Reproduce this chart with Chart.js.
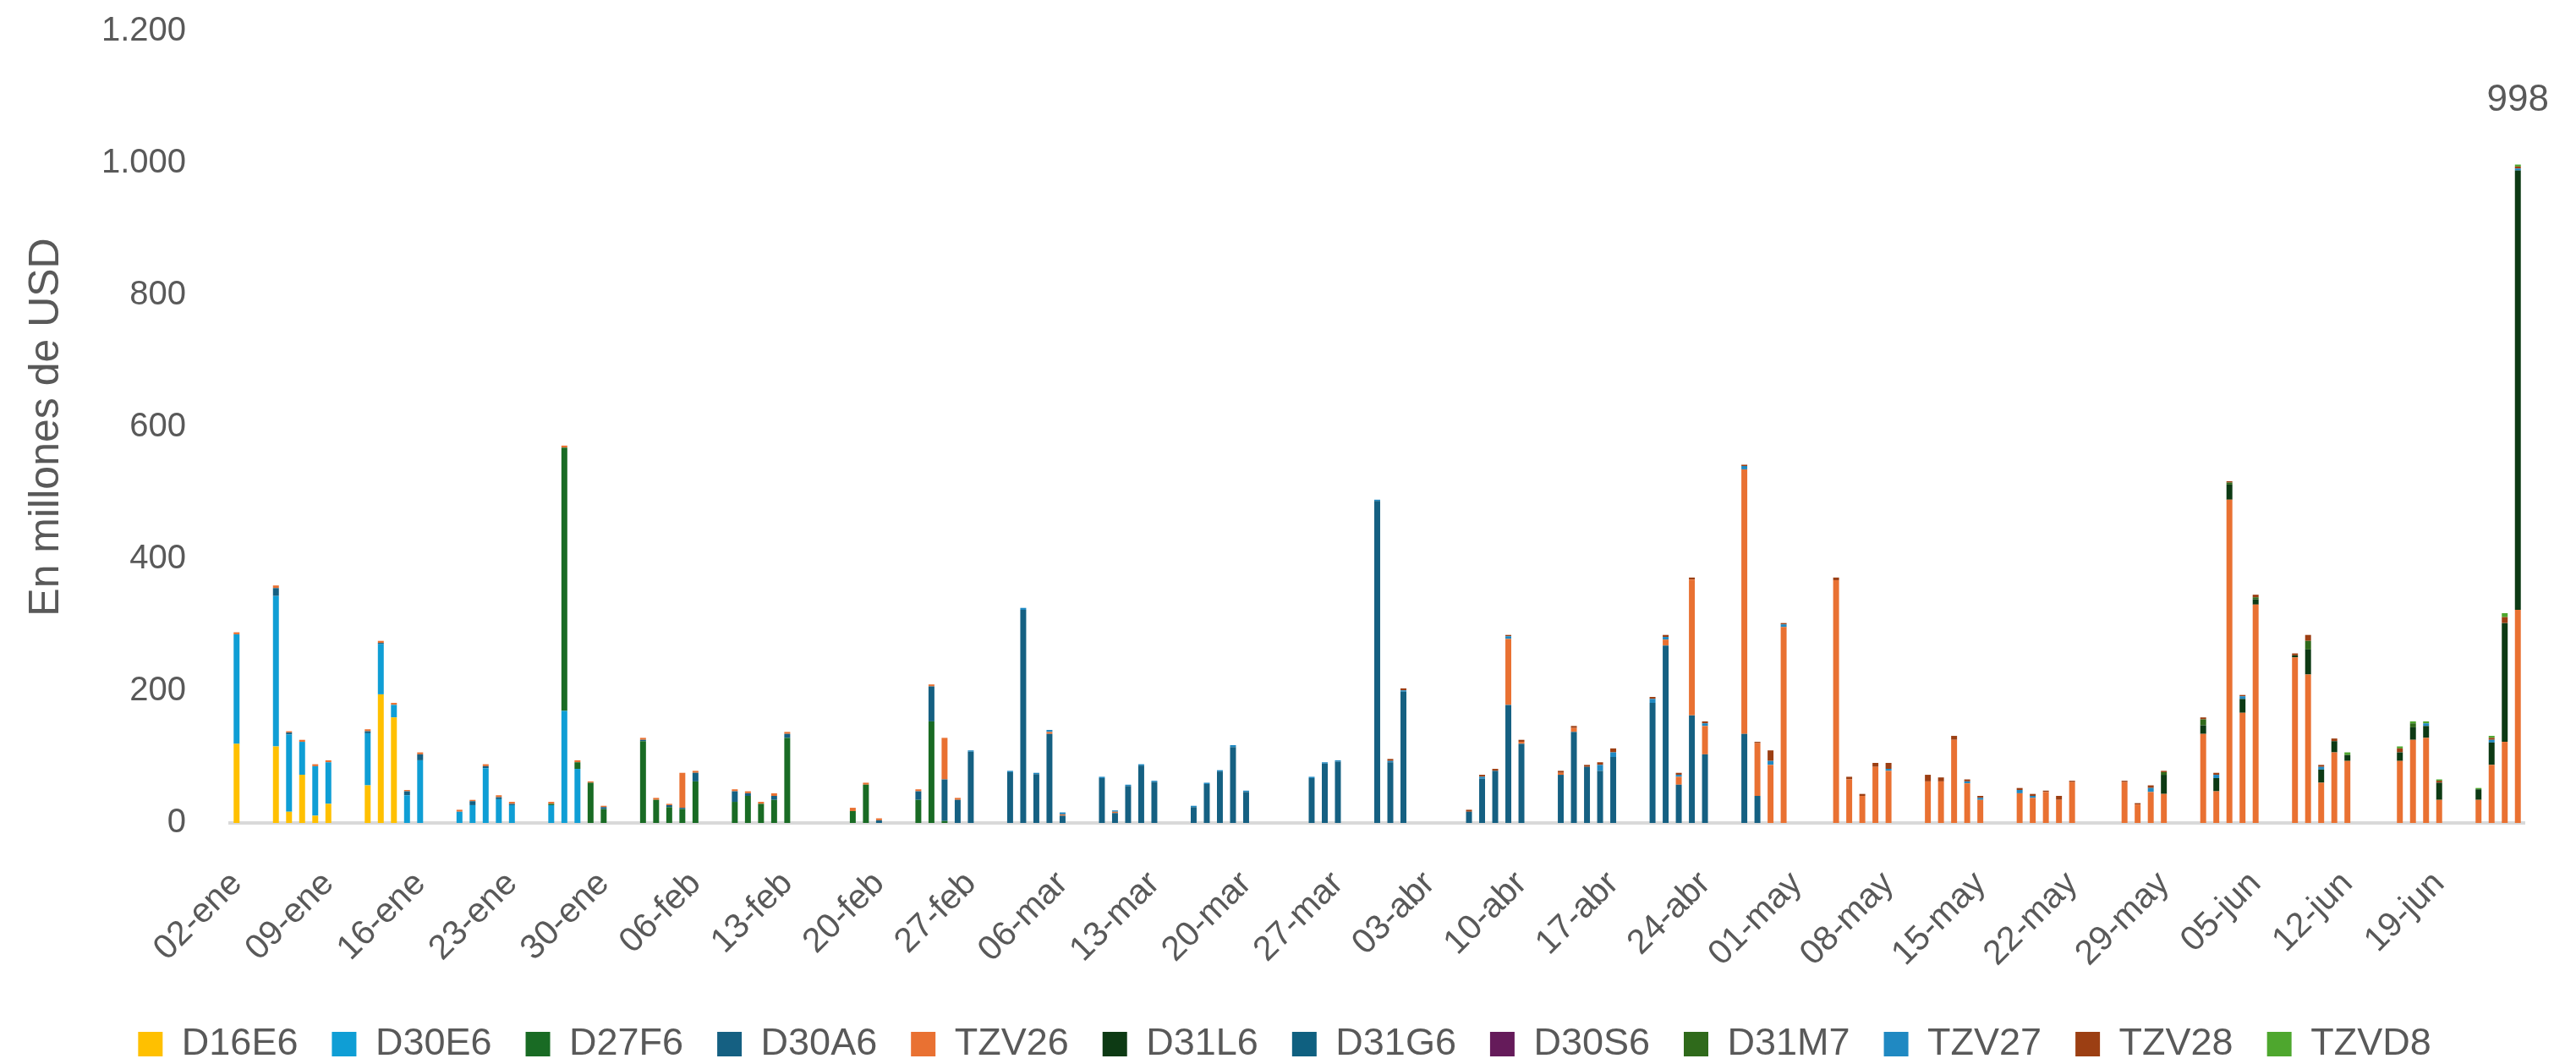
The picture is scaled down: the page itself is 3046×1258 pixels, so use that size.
<!DOCTYPE html>
<html lang="es">
<head>
<meta charset="utf-8">
<title>Negociación diaria por especie</title>
<script src="https://cdn.jsdelivr.net/npm/chart.js@4.4.1/dist/chart.umd.min.js"></script>
<style>
  html, body { margin: 0; padding: 0; background: #fff; }
  #chart { display: block; }
</style>
</head>
<body>
<canvas id="chart" width="3046" height="1258"></canvas>
<script>
const months = ["ene", "feb", "mar", "abr", "may", "jun"];

// días con operaciones (ene 21, feb 18, mar 20, abr 20, may 19, jun 18)
const tradeDays = [
  "02-ene","05-ene","06-ene","07-ene","08-ene","09-ene","12-ene","13-ene","14-ene","15-ene","16-ene",
  "19-ene","20-ene","21-ene","22-ene","23-ene","26-ene","27-ene","28-ene","29-ene","30-ene",
  "02-feb","03-feb","04-feb","05-feb","06-feb","09-feb","10-feb","11-feb","12-feb","13-feb",
  "18-feb","19-feb","20-feb","23-feb","24-feb","25-feb","26-feb","27-feb",
  "02-mar","03-mar","04-mar","05-mar","06-mar","09-mar","10-mar","11-mar","12-mar","13-mar",
  "16-mar","17-mar","18-mar","19-mar","20-mar","25-mar","26-mar","27-mar","30-mar","31-mar",
  "01-abr","06-abr","07-abr","08-abr","09-abr","10-abr","13-abr","14-abr","15-abr","16-abr",
  "17-abr","20-abr","21-abr","22-abr","23-abr","24-abr","27-abr","28-abr","29-abr","30-abr",
  "04-may","05-may","06-may","07-may","08-may","11-may","12-may","13-may","14-may","15-may",
  "18-may","19-may","20-may","21-may","22-may","26-may","27-may","28-may","29-may",
  "01-jun","02-jun","03-jun","04-jun","05-jun","08-jun","09-jun","10-jun","11-jun","12-jun",
  "16-jun","17-jun","18-jun","19-jun","22-jun","23-jun","24-jun","25-jun"
];

const seriesNames = ["D16E6","D30E6","D27F6","D30A6","TZV26","D31L6","D31G6","D30S6","D31M7","TZV27","TZV28","TZVD8"];
const seriesColors = ["#FFC000","#0F9ED5","#196B24","#156082","#E97132","#0D3A14","#0F6080","#651B5A","#2F6A1B","#2089C2","#9C3F13","#4EA72E"];

// valores en millones de USD, una línea por mes
const D16E6 = [
  120,116,17,73,11,29,57,195,160,0,0,0,0,0,0,0,0,0,0,0,0,
  0,0,0,0,0,0,0,0,0,0,0,0,0,0,0,0,0,0,
  0,0,0,0,0,0,0,0,0,0,0,0,0,0,0,0,0,0,0,0,
  0,0,0,0,0,0,0,0,0,0,0,0,0,0,0,0,0,0,0,0,
  0,0,0,0,0,0,0,0,0,0,0,0,0,0,0,0,0,0,0,
  0,0,0,0,0,0,0,0,0,0,0,0,0,0,0,0,0,0
];
const D30E6 = [
  166,228,117,50,75,63,79,76,19,42,95,17,27,83,36,27,27,170,82,0,0,
  0,0,0,0,0,0,0,0,0,0,0,0,0,0,0,0,0,0,
  0,0,0,0,0,0,0,0,0,0,0,0,0,0,0,0,0,0,0,0,
  0,0,0,0,0,0,0,0,0,0,0,0,0,0,0,0,0,0,0,0,
  0,0,0,0,0,0,0,0,0,0,0,0,0,0,0,0,0,0,0,
  0,0,0,0,0,0,0,0,0,0,0,0,0,0,0,0,0,0
];
const D27F6 = [
  0,0,0,0,0,0,0,0,0,0,0,0,0,0,0,0,2,399,10,61,21,
  124,35,24,21,63,32,41,29,35,129,18,58,0,35,154,3,0,0,
  0,0,0,0,0,0,0,0,0,0,0,0,0,0,0,0,0,0,0,0,
  0,0,0,0,0,0,0,0,0,0,0,0,0,0,0,0,0,0,0,0,
  0,0,0,0,0,0,0,0,0,0,0,0,0,0,0,0,0,0,0,
  0,0,0,0,0,0,0,0,0,0,0,0,0,0,0,0,0,0
];
const D30A6 = [
  0,12,3,0,0,0,3,2,0,6,9,0,6,3,3,2,0,0,0,0,3,
  2,0,3,2,13,16,4,0,6,6,0,0,4,13,53,63,35,108,
  77,323,74,135,11,68,15,56,87,62,24,59,78,115,47,68,90,93,488,92,
  199,17,67,79,179,120,73,138,85,79,100,182,269,58,163,104,135,41,0,0,
  0,0,0,0,0,0,0,0,0,0,0,0,0,0,0,0,0,0,0,
  0,0,0,0,0,0,0,0,0,0,0,0,0,0,0,0,0,0
];
const TZV26 = [
  3,4,2,3,3,3,3,3,3,2,3,3,2,3,3,3,3,3,3,2,2,
  3,3,2,53,3,3,3,3,4,3,5,3,3,3,3,63,3,0,
  0,0,0,3,2,0,2,0,0,0,0,0,0,0,0,0,0,0,0,0,
  0,0,0,0,100,3,3,6,0,0,0,0,9,12,206,43,401,80,88,297,
  368,66,41,85,79,63,63,126,60,35,45,38,47,35,62,62,28,47,44,
  135,48,490,167,331,251,225,61,107,94,94,126,129,35,35,88,123,323
];
const D31L6 = [
  0,0,0,0,0,0,0,0,0,0,0,0,0,0,0,0,0,0,0,0,0,
  0,0,0,0,0,0,0,0,0,0,0,0,0,0,0,0,0,0,
  0,0,0,0,0,0,0,0,0,0,0,0,0,0,0,0,0,0,0,0,
  0,0,0,0,0,0,0,0,0,0,0,0,0,0,0,0,0,0,0,0,
  0,0,0,0,0,0,0,0,0,0,0,0,0,0,0,0,0,0,29,
  13,20,23,21,8,3,38,20,17,9,13,19,18,26,16,34,180,666
];
const D31G6 = [
  0,0,0,0,0,0,0,0,0,0,0,0,0,0,0,0,0,0,0,0,0,
  0,0,0,0,0,0,0,0,0,0,0,0,0,0,0,0,0,0,
  0,0,0,0,0,0,0,0,0,0,0,0,0,0,0,0,0,0,0,0,
  0,0,0,0,0,0,0,0,0,0,0,0,0,0,0,0,0,0,0,0,
  0,0,0,0,0,0,0,0,0,0,0,0,0,0,0,0,0,0,0,
  0,0,0,0,0,0,0,0,0,0,0,0,0,0,0,0,0,0
];
const D30S6 = [
  0,0,0,0,0,0,0,0,0,0,0,0,0,0,0,0,0,0,0,0,0,
  0,0,0,0,0,0,0,0,0,0,0,0,0,0,0,0,0,0,
  0,0,0,0,0,0,0,0,0,0,0,0,0,0,0,0,0,0,0,0,
  0,0,0,0,0,0,0,0,0,0,0,0,0,0,0,0,0,0,0,0,
  0,0,0,0,0,0,0,0,0,0,0,0,0,0,0,0,0,0,0,
  0,0,0,0,0,0,0,0,0,0,0,0,0,0,0,0,0,0
];
const D31M7 = [
  0,0,0,0,0,0,0,0,0,0,0,0,0,0,0,0,0,0,0,0,0,
  0,0,0,0,0,0,0,0,0,0,0,0,0,0,0,0,0,0,
  0,0,0,0,0,0,0,0,0,0,0,0,0,0,0,0,0,0,0,0,
  0,0,0,0,0,0,0,0,0,0,0,0,0,0,0,0,0,0,0,0,
  0,0,0,0,0,0,0,0,0,0,0,0,0,0,0,0,0,0,4,
  9,0,3,0,3,0,13,0,0,0,0,6,0,0,0,0,0,0
];
const TZV27 = [
  0,0,0,0,0,0,0,0,0,0,0,0,0,0,0,0,0,0,0,0,0,
  0,0,0,0,0,0,0,0,0,0,0,0,0,0,0,0,0,2,
  2,3,2,3,3,2,2,2,2,2,2,2,2,3,2,2,2,2,2,2,
  2,0,3,0,4,0,0,0,0,9,7,6,4,3,0,4,5,0,6,4,
  0,0,0,0,3,0,0,0,3,3,5,3,0,0,0,0,0,6,0,
  0,5,0,4,0,0,0,4,0,0,0,0,4,0,0,4,0,3
];
const TZV28 = [
  0,0,0,0,0,0,0,0,0,0,0,0,0,0,0,0,0,0,0,0,0,
  0,0,0,0,0,0,0,0,0,0,0,0,0,0,0,0,0,0,
  0,0,0,0,0,0,0,0,0,0,0,0,0,0,0,0,0,0,0,3,
  3,3,3,3,2,3,3,3,3,4,6,3,3,3,3,3,2,2,16,2,
  4,4,3,6,9,10,6,6,3,3,3,3,2,6,2,2,2,4,2,
  3,3,2,2,4,3,9,3,4,0,6,0,0,3,0,3,9,3
];
const TZVD8 = [
  0,0,0,0,0,0,0,0,0,0,0,0,0,0,0,0,0,0,0,0,0,
  0,0,0,0,0,0,0,0,0,0,0,0,0,0,0,0,0,0,
  0,0,0,0,0,0,0,0,0,0,0,0,0,0,0,0,0,0,0,0,
  0,0,0,0,0,0,0,0,0,0,0,0,0,0,0,0,0,0,0,0,
  0,0,0,0,0,0,0,0,0,0,0,0,0,0,0,0,0,0,0,
  0,0,0,0,0,0,0,0,0,4,3,3,3,2,2,3,6,3
];
const seriesValues = [D16E6, D30E6, D27F6, D30A6, TZV26, D31L6, D31G6, D30S6, D31M7, TZV27, TZV28, TZVD8];

// eje de fechas corridas: del 02-ene al 25-jun, fines de semana y feriados quedan vacíos
const calendar = [];
for (let d = new Date(2026, 0, 2); d <= new Date(2026, 5, 25); d.setDate(d.getDate() + 1)) {
  calendar.push(String(d.getDate()).padStart(2, "0") + "-" + months[d.getMonth()]);
}

const datasets = seriesNames.map((name, s) => {
  if (seriesValues[s].length !== tradeDays.length) console.error("largo distinto en", name);
  return {
    label: name,
    backgroundColor: seriesColors[s],
    borderWidth: 0,
    barPercentage: 0.45,
    categoryPercentage: 1,
    data: calendar.map(day => {
      const i = tradeDays.indexOf(day);
      return i < 0 || !seriesValues[s][i] ? null : seriesValues[s][i];
    })
  };
});

const font = "'Liberation Sans', Arial, sans-serif";
const textColor = "#595959";

// total sobre la última barra
const totalLabel = {
  id: "totalLabel",
  afterDatasetsDraw(chart) {
    const idx = calendar.length - 1;
    let total = 0;
    chart.data.datasets.forEach(ds => total += ds.data[idx] || 0);
    const x = chart.scales.x.getPixelForValue(idx);
    const y = chart.scales.y.getPixelForValue(total);
    const ctx = chart.ctx;
    ctx.save();
    ctx.font = "44px " + font;
    ctx.fillStyle = textColor;
    ctx.textAlign = "center";
    ctx.textBaseline = "middle";
    ctx.fillText(String(total), x, y - 76);
    ctx.restore();
  }
};

// la leyenda va centrada en el lienzo, no entre los márgenes
const legendShift = {
  id: "legendShift",
  afterLayout(chart) {
    chart.legend.left += 14;
    chart.legend.right += 14;
  }
};

const ctx = document.getElementById("chart").getContext("2d");
new Chart(ctx, {
  type: "bar",
  data: { labels: calendar, datasets: datasets },
  plugins: [totalLabel, legendShift],
  options: {
    responsive: false,
    animation: false,
    devicePixelRatio: 1,
    layout: { padding: { top: 0, left: 25, right: 61, bottom: -9 } },
    plugins: {
      legend: {
        position: "bottom",
        labels: {
          boxWidth: 29,
          boxHeight: 29,
          padding: 40,
          color: textColor,
          font: { family: font, size: 45 }
        }
      },
      tooltip: { enabled: false }
    },
    scales: {
      x: {
        stacked: true,
        grid: { display: false, drawTicks: false },
        border: { display: true, color: "#D9D9D9", width: 4 },
        afterFit: scale => {
          scale.height = 199;
          scale.paddingLeft = 0;
          scale.paddingRight = 0;
        },
        ticks: {
          autoSkip: false,
          minRotation: 45,
          maxRotation: 45,
          padding: 48,
          color: textColor,
          font: { family: font, size: 41 },
          callback: function (val, i) {
            return i % 7 === 0 ? this.getLabelForValue(val) : "";
          }
        }
      },
      y: {
        stacked: true,
        min: 0,
        max: 1200,
        grid: { display: false, drawTicks: false },
        border: { display: false },
        afterFit: scale => {
          scale.width = 247;
          scale.paddingTop = 37;
          scale.paddingBottom = 0;
        },
        ticks: {
          stepSize: 200,
          padding: 52,
          color: textColor,
          font: { family: font, size: 40 },
          callback: v => String(v).replace(/\B(?=(\d{3})+(?!\d))/g, ".")
        },
        title: {
          display: true,
          text: "En millones de USD",
          color: textColor,
          padding: 0,
          font: { family: font, size: 50 }
        }
      }
    }
  }
});
</script>
</body>
</html>
